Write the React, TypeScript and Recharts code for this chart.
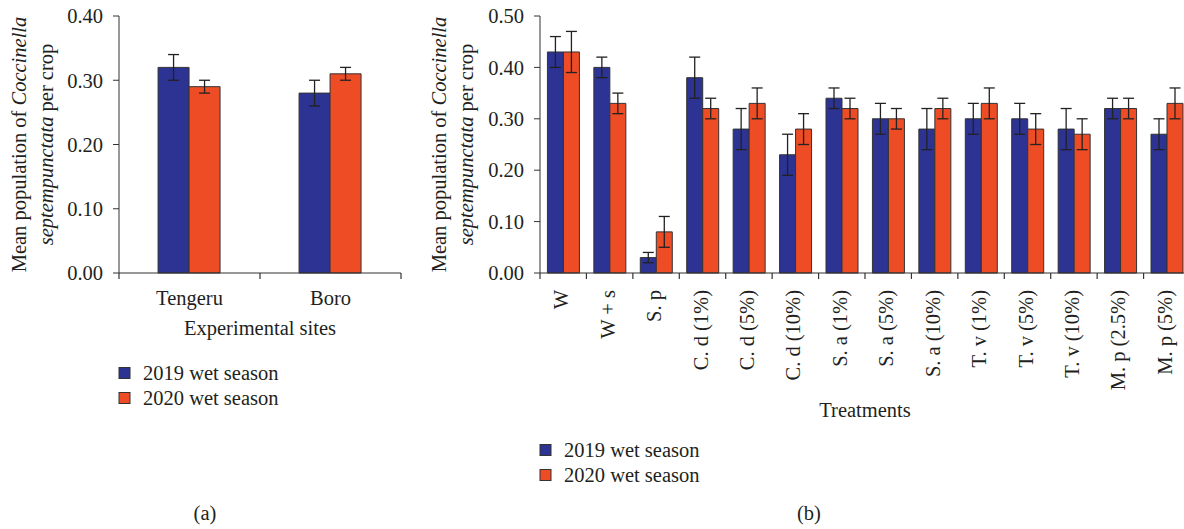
import { Bar, BarChart, ErrorBar, XAxis, YAxis } from 'recharts'

// Mean population of Coccinella septempunctata per crop
// (a) by experimental site, (b) by treatment — two wet seasons

const SERIES_NAMES = ['2019 wet season', '2020 wet season']
const SERIES_COLORS = ['#2c3393', '#ee4c25']

const sites = ['Tengeru', 'Boro']
const siteMean2019 = [0.32, 0.28]
const siteErr2019 = [0.02, 0.02]
const siteMean2020 = [0.29, 0.31]
const siteErr2020 = [0.01, 0.01]
const siteTicks = [0, 0.1, 0.2, 0.3, 0.4]

const treatments = [
  'W',
  'W + s',
  'S. p',
  'C. d (1%)',
  'C. d (5%)',
  'C. d (10%)',
  'S. a (1%)',
  'S. a (5%)',
  'S. a (10%)',
  'T. v (1%)',
  'T. v (5%)',
  'T. v (10%)',
  'M. p (2.5%)',
  'M. p (5%)',
]
const trtMean2019 = [0.43, 0.4, 0.03, 0.38, 0.28, 0.23, 0.34, 0.3, 0.28, 0.3, 0.3, 0.28, 0.32, 0.27]
const trtErr2019 = [0.03, 0.02, 0.01, 0.04, 0.04, 0.04, 0.02, 0.03, 0.04, 0.03, 0.03, 0.04, 0.02, 0.03]
const trtMean2020 = [0.43, 0.33, 0.08, 0.32, 0.33, 0.28, 0.32, 0.3, 0.32, 0.33, 0.28, 0.27, 0.32, 0.33]
const trtErr2020 = [0.04, 0.02, 0.03, 0.02, 0.03, 0.03, 0.02, 0.02, 0.02, 0.03, 0.03, 0.03, 0.02, 0.03]
const trtTicks = [0, 0.1, 0.2, 0.3, 0.4, 0.5]

const FONT = "'Liberation Serif', 'DejaVu Serif', serif"
const INK = '#231f20'
const AXIS = '#333333'
const FS = 20.5

const siteData = sites.map((name, i) => ({
  name,
  m19: siteMean2019[i],
  e19: siteErr2019[i],
  m20: siteMean2020[i],
  e20: siteErr2020[i],
}))

const trtData = treatments.map((name, i) => ({
  name,
  m19: trtMean2019[i],
  e19: trtErr2019[i],
  m20: trtMean2020[i],
  e20: trtErr2020[i],
}))

// category ticks sit on the band edges, labels in the middle
function makeEdgeTick(count: number, rotated: boolean) {
  return function EdgeTick(props: any) {
    const { x, y, payload, index } = props
    const half = payload?.offset ?? 0
    const axisY = y - 6
    return (
      <g>
        <line x1={x - half} x2={x - half} y1={axisY} y2={axisY + 6} stroke={AXIS} strokeWidth={1.2} />
        {index === count - 1 && (
          <line x1={x + half} x2={x + half} y1={axisY} y2={axisY + 6} stroke={AXIS} strokeWidth={1.2} />
        )}
        {rotated ? (
          <text
            x={x + 5}
            y={axisY + 17}
            transform={`rotate(-90 ${x + 5} ${axisY + 17})`}
            textAnchor="end"
            fill={INK}
            fontSize={FS}
            fontFamily={FONT}
          >
            {payload.value}
          </text>
        ) : (
          <text x={x} y={axisY + 32} textAnchor="middle" fill={INK} fontSize={FS} fontFamily={FONT}>
            {payload.value}
          </text>
        )}
      </g>
    )
  }
}

function YTitle(props: any) {
  const vb = props.viewBox ?? {}
  const cy = vb.y + vb.height / 2
  const x1 = vb.x + 26
  const x2 = vb.x + 53
  return (
    <g fill={INK} fontSize={FS} fontFamily={FONT}>
      <text x={x1} y={cy} transform={`rotate(-90 ${x1} ${cy})`} textAnchor="middle">
        Mean population of <tspan fontStyle="italic">Coccinella</tspan>
      </text>
      <text x={x2} y={cy} transform={`rotate(-90 ${x2} ${cy})`} textAnchor="middle">
        <tspan fontStyle="italic">septempunctata</tspan> per crop
      </text>
    </g>
  )
}

const tickStyle = { fill: INK, fontSize: FS, fontFamily: FONT }
const titleStyle = { fill: INK, fontSize: FS, fontFamily: FONT }

function LegendBlock({ x, y }: { x: number; y: number }) {
  return (
    <g fontFamily={FONT} fontSize={FS} fill={INK}>
      {SERIES_NAMES.map((name, i) => (
        <g key={name}>
          <rect x={x} y={y + i * 25 - 5.5} width={11} height={11} fill={SERIES_COLORS[i]} stroke={AXIS} strokeWidth={1} />
          <text x={x + 24} y={y + i * 25 + 7}>
            {name}
          </text>
        </g>
      ))}
    </g>
  )
}

export default function App() {
  return (
    <div
      style={{
        position: 'absolute',
        left: 0,
        top: 0,
        width: 1184,
        height: 529,
        overflow: 'hidden',
        background: '#fff',
      }}
    >
      <div style={{ position: 'absolute', left: 0, top: 0 }}>
        <BarChart
          width={420}
          height={345}
          data={siteData}
          margin={{ top: 16, right: 19, bottom: 0, left: 0 }}
          barCategoryGap="27.7%"
          barGap={0}
        >
          <XAxis
            dataKey="name"
            height={72}
            interval={0}
            tickLine={false}
            tickSize={6}
            tickMargin={0}
            stroke={AXIS}
            tick={makeEdgeTick(sites.length, false)}
            label={{ value: 'Experimental sites', position: 'insideBottom', offset: 10, ...titleStyle }}
          />
          <YAxis
            width={119}
            domain={[0, 0.4]}
            ticks={siteTicks}
            tickFormatter={(v: number) => v.toFixed(2)}
            tickSize={6}
            tickMargin={10}
            stroke={AXIS}
            tick={tickStyle}
            label={<YTitle />}
          />
          <Bar dataKey="m19" name={SERIES_NAMES[0]} fill={SERIES_COLORS[0]} stroke={AXIS} strokeWidth={1} isAnimationActive={false}>
            <ErrorBar dataKey="e19" width={5.5} stroke="#222" strokeWidth={1.3} />
          </Bar>
          <Bar dataKey="m20" name={SERIES_NAMES[1]} fill={SERIES_COLORS[1]} stroke={AXIS} strokeWidth={1} isAnimationActive={false}>
            <ErrorBar dataKey="e20" width={5.5} stroke="#222" strokeWidth={1.3} />
          </Bar>
        </BarChart>
      </div>

      <div style={{ position: 'absolute', left: 420, top: 0 }}>
        <BarChart
          width={770}
          height={427}
          data={trtData}
          margin={{ top: 16, right: 0, bottom: 0, left: 0 }}
          barCategoryGap="16%"
          barGap={0}
        >
          <XAxis
            dataKey="name"
            height={154}
            interval={0}
            tickLine={false}
            tickSize={6}
            tickMargin={0}
            stroke={AXIS}
            tick={makeEdgeTick(treatments.length, true)}
            label={{ value: 'Treatments', position: 'insideBottom', offset: 10, ...titleStyle }}
          />
          <YAxis
            width={120}
            domain={[0, 0.5]}
            ticks={trtTicks}
            tickFormatter={(v: number) => v.toFixed(2)}
            tickSize={6}
            tickMargin={10}
            stroke={AXIS}
            tick={tickStyle}
            label={<YTitle />}
          />
          <Bar dataKey="m19" name={SERIES_NAMES[0]} fill={SERIES_COLORS[0]} stroke={AXIS} strokeWidth={1} isAnimationActive={false}>
            <ErrorBar dataKey="e19" width={5.5} stroke="#222" strokeWidth={1.3} />
          </Bar>
          <Bar dataKey="m20" name={SERIES_NAMES[1]} fill={SERIES_COLORS[1]} stroke={AXIS} strokeWidth={1} isAnimationActive={false}>
            <ErrorBar dataKey="e20" width={5.5} stroke="#222" strokeWidth={1.3} />
          </Bar>
        </BarChart>
      </div>

      <svg
        width={1184}
        height={529}
        style={{ position: 'absolute', left: 0, top: 0, pointerEvents: 'none' }}
      >
        <LegendBlock x={119} y={373} />
        <LegendBlock x={540} y={450} />
        <text x={205} y={520} textAnchor="middle" fontFamily={FONT} fontSize={FS} fill={INK}>
          (a)
        </text>
        <text x={809} y={520} textAnchor="middle" fontFamily={FONT} fontSize={FS} fill={INK}>
          (b)
        </text>
      </svg>
    </div>
  )
}
